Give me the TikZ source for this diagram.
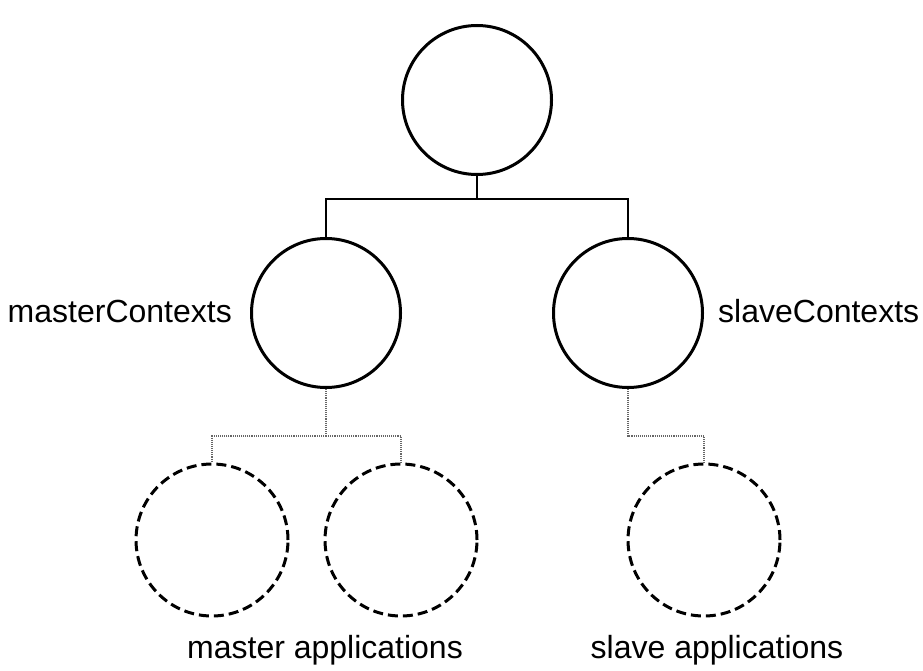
\documentclass[tikz,border=0pt]{standalone}
\usepackage{fontspec}
\setmainfont{Liberation Sans}
\begin{document}
\begin{tikzpicture}[x=1pt,y=-1pt,
  ctx/.style={circle,draw,line width=3pt,minimum size=149pt,inner sep=0pt},
  app/.style={circle,draw,line width=3pt,dash pattern=on 10pt off 5pt,minimum size=152pt,inner sep=0pt},
  tree/.style={line width=1.5pt},
  weak/.style={line width=1.1pt,draw=black!60,densely dotted},
  lbl/.style={font=\fontsize{32}{38}\selectfont,inner sep=0pt}]
\useasboundingbox (0,0) rectangle (923,671);
% context hierarchy
\node[ctx] (root) at (477,100) {};
\node[ctx] (master) at (326,313) {};
\node[ctx] (slave) at (628,313) {};
\coordinate (split) at (477,199);
\draw[tree] (root.south) -- (split);
\draw[tree] (split) -| (master.north);
\draw[tree] (split) -| (slave.north);
% applications
\node[app] (ma1) at (212,540) {};
\node[app] (ma2) at (401,540) {};
\node[app] (sa) at (704,540) {};
\coordinate (msplit) at (326,436);
\draw[weak] (master.south) -- (msplit);
\draw[weak] (msplit) -| (ma1.north);
\draw[weak] (msplit) -| (ma2.north);
\draw[weak] (slave.south) |- (sa.north |- msplit) -- (sa.north);
% labels
\node[lbl,anchor=east] (lm) at (232,311) {masterContexts};
\node[lbl,anchor=west] (ls) at (718,311) {slaveContexts};
\node[lbl] (lma) at (325,650) {master applications};
\node[lbl] (lsa) at (717,650) {slave applications};
\end{tikzpicture}
\end{document}
